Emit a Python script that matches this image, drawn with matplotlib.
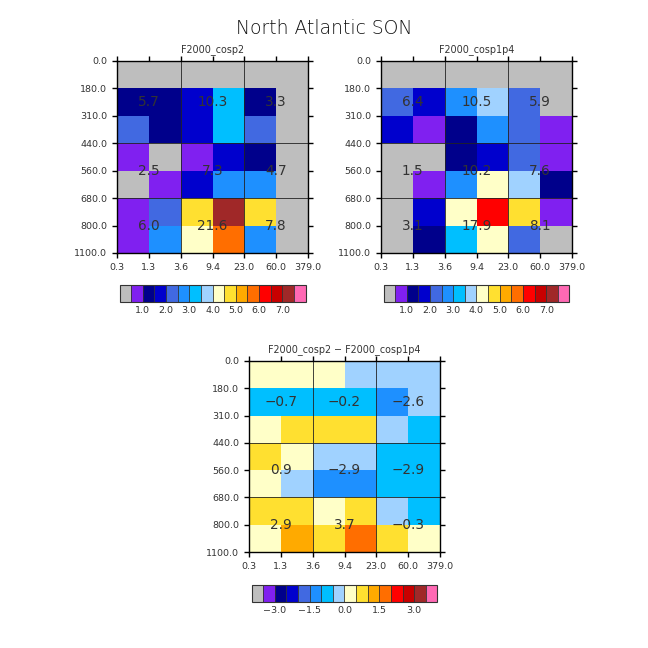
import numpy as np
import matplotlib
matplotlib.use("Agg")
import matplotlib.pyplot as plt
from matplotlib.colors import ListedColormap, BoundaryNorm

# tick labels (boxes are evenly spaced, not to scale)
tau_labels = ["0.3", "1.3", "3.6", "9.4", "23.0", "60.0", "379.0"]
plev_labels = ["0.0", "180.0", "310.0", "440.0", "560.0", "680.0", "800.0", "1100.0"]

colors = ["#BEBEBE", "#8020F0", "#00008B", "#0000CD", "#4169E1", "#1E90FF",
          "#00BFFF", "#A0D2FF", "#FFFFC8", "#FFE030", "#FFAA00", "#FF6E00",
          "#FF0000", "#C80000", "#A02828", "#FF69B4"]

levels_abs = [0.5, 1.0, 1.5, 2.0, 2.5, 3.0, 3.5, 4.0, 4.5, 5.0, 5.5, 6.0, 6.5, 7.0, 7.5]
levels_diff = [-3.5, -3.0, -2.5, -2.0, -1.5, -1.0, -0.5, 0.0, 0.5, 1.0, 1.5, 2.0, 2.5, 3.0, 3.5]

ticks_abs = [1.0, 2.0, 3.0, 4.0, 5.0, 6.0, 7.0]
ticks_diff = [-3.0, -1.5, 0.0, 1.5, 3.0]

# values, top row first
cosp2 = [
    [0.2, 0.2, 0.2, 0.2, 0.2, 0.2],
    [1.25, 1.25, 1.75, 3.25, 1.25, 0.2],
    [2.25, 1.25, 1.75, 3.25, 2.25, 0.2],
    [0.75, 0.2, 0.75, 1.75, 1.25, 0.2],
    [0.2, 0.75, 1.75, 2.75, 2.75, 0.2],
    [0.75, 2.25, 4.75, 7.25, 4.75, 0.2],
    [0.75, 2.75, 4.25, 5.75, 2.75, 0.2],
]
cosp1p4 = [
    [0.2, 0.2, 0.2, 0.2, 0.2, 0.2],
    [2.25, 1.75, 2.75, 3.75, 2.25, 0.2],
    [1.75, 0.75, 1.25, 2.75, 2.25, 0.75],
    [0.2, 0.2, 1.25, 1.75, 2.25, 0.75],
    [0.2, 0.75, 2.75, 4.25, 3.75, 1.25],
    [0.2, 1.75, 4.25, 6.25, 4.75, 0.75],
    [0.2, 1.25, 3.25, 4.25, 2.25, 0.2],
]
diff = [
    [0.25, 0.25, 0.25, -0.25, -0.25, -0.25],
    [-0.75, -0.75, -0.75, -0.75, -1.25, -0.25],
    [0.25, 0.75, 0.75, 0.75, -0.25, -0.75],
    [0.75, 0.25, -0.25, -0.25, -0.75, -0.75],
    [0.25, -0.25, -1.25, -1.25, -0.75, -0.75],
    [0.75, 0.75, 0.25, 0.75, -0.25, -0.75],
    [0.25, 1.25, 0.75, 1.75, 0.75, 0.25],
]

# total cloud numbers printed over each 2 col x group block, top group first
totals_cosp2 = [["5.7", "10.3", "3.3"], ["2.5", "7.3", "4.7"], ["6.0", "21.6", "7.8"]]
totals_cosp1p4 = [["6.4", "10.5", "5.9"], ["1.5", "10.2", "7.6"], ["3.1", "17.9", "8.1"]]
totals_diff = [["\u22120.7", "\u22120.2", "\u22122.6"], ["0.9", "\u22122.9", "\u22122.9"],
               ["2.9", "3.7", "\u22120.3"]]

W, H = 648.0, 648.0
group_rows = [1.5, 4.0, 6.0]
group_cols = [1.0, 3.0, 5.0]

cmap = ListedColormap(colors)


def draw_panel(box, cbox, data, totals, levels, ticks, title):
    # boxes are in pixels from the top left
    l, t, r, b = box
    ax = fig.add_axes([l / W, 1 - b / H, (r - l) / W, (b - t) / H])
    norm = BoundaryNorm(levels, len(colors), extend="both")
    mesh = ax.pcolormesh(np.arange(7), np.arange(8), np.array(data), cmap=cmap, norm=norm)
    ax.set_ylim(7, 0)
    ax.set_xlim(0, 6)
    ax.set_xticks(np.arange(7))
    ax.set_xticklabels(tau_labels, fontsize=6.8, color="#333333")
    ax.set_yticks(np.arange(8))
    ax.set_yticklabels(plev_labels, fontsize=6.8, color="#333333")
    ax.tick_params(direction="out", length=3.6, width=1, top=True, right=True, pad=3.5)
    for s in ax.spines.values():
        s.set_linewidth(1)
    for x in [2, 4]:
        ax.axvline(x, color="#222222", lw=0.6)
    for y in [3, 5]:
        ax.axhline(y, color="#222222", lw=0.6)
    for row, y in zip(totals, group_rows):
        for txt, x in zip(row, group_cols):
            ax.text(x, y, txt, ha="center", va="center", fontsize=9.8, color="#333333")
    ax.set_title(title, fontsize=6.9, color="#333333", pad=6.5)

    l, t, r, b = cbox
    cax = fig.add_axes([l / W, 1 - b / H, (r - l) / W, (b - t) / H])
    cb = fig.colorbar(mesh, cax=cax, orientation="horizontal", ticks=ticks,
                      extendrect=True, extendfrac="auto", spacing="uniform", drawedges=True)
    cb.ax.set_xticklabels([("%.1f" % v).replace("-", "\u2212") for v in ticks])
    cb.ax.minorticks_off()
    cb.ax.tick_params(length=0, labelsize=6.8, labelcolor="#333333", pad=3)
    cb.outline.set_linewidth(0.8)
    cb.outline.set_edgecolor("#333333")
    cb.dividers.set_linewidth(0.6)
    cb.dividers.set_color("#333333")


fig = plt.figure(figsize=(6.48, 6.48), dpi=100)

draw_panel((117, 61, 308, 253), (119.5, 285, 305.5, 302), cosp2, totals_cosp2,
           levels_abs, ticks_abs, "F2000_cosp2")
draw_panel((381, 61, 572, 253), (383.5, 285, 569.5, 302), cosp1p4, totals_cosp1p4,
           levels_abs, ticks_abs, "F2000_cosp1p4")
draw_panel((249, 361, 440, 552), (251.5, 585, 437.5, 602), diff, totals_diff,
           levels_diff, ticks_diff, "F2000_cosp2 \u2212 F2000_cosp1p4")

fig.text(324 / W, 1 - 29 / H, "North Atlantic SON", ha="center", va="center",
         fontsize=13.5, color="#111111", fontweight="light")

fig.savefig("out.png", dpi=100)
